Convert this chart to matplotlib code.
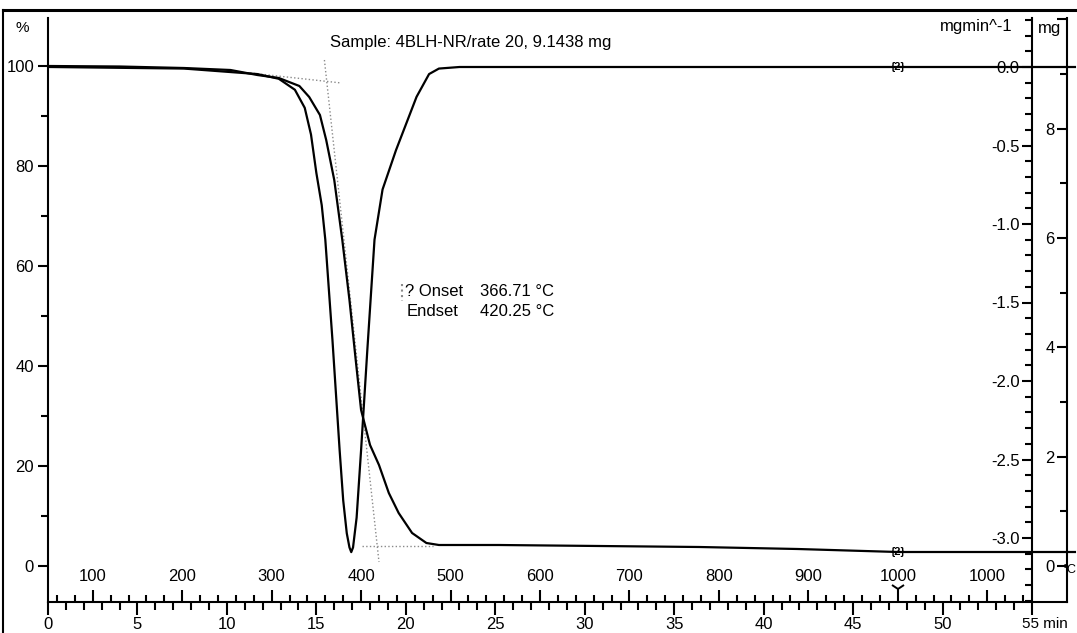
import matplotlib
matplotlib.use("Agg")
import matplotlib.pyplot as plt
from matplotlib.lines import Line2D
from matplotlib.transforms import ScaledTranslation
from matplotlib.ticker import MultipleLocator, FixedLocator, FormatStrFormatter

plt.rcParams['font.family'] = ['Liberation Sans', 'DejaVu Sans']
plt.rcParams['axes.unicode_minus'] = False

# sample info
sample_mass = 9.1438  # mg, 100 %
onset_T = 366.71
endset_T = 420.25

# TGA curve: time (min) vs residual mass (%)
tga_time = [0.1, 4.0, 7.6, 10.2, 11.7, 12.9, 14.05, 14.6, 15.2, 15.55, 16.0, 16.45,
            16.85, 17.2, 17.5, 18.0, 18.5, 19.05, 19.6, 20.35, 21.15, 21.85, 25.2,
            30.8, 36.4, 41.9, 47.5, 53.1, 57.4]
tga_pct = [100.0, 99.9, 99.6, 99.2, 98.2, 97.6, 96.0, 93.8, 90.2, 85.2, 77.2, 65.2,
           53.2, 41.2, 31.2, 24.2, 20.2, 14.6, 10.6, 6.6, 4.6, 4.2, 4.2,
           4.0, 3.8, 3.4, 2.8, 2.8, 2.8]

# DTG curve: time (min) vs mass loss rate (mg/min)
dtg_time = [0.1, 7.6, 11.7, 12.9, 13.8, 14.35, 14.7, 15.0, 15.3, 15.5, 15.9, 16.3,
            16.5, 16.7, 16.85, 16.95, 17.05, 17.25, 17.5, 17.85, 18.25, 18.7, 19.45,
            20.6, 21.3, 21.85, 23.0, 30.0, 40.0, 50.0, 57.4]
dtg_val = [0.0, -0.01, -0.045, -0.075, -0.145, -0.26, -0.43, -0.675, -0.88, -1.10, -1.74, -2.44,
           -2.76, -2.97, -3.06, -3.09, -3.06, -2.87, -2.44, -1.80, -1.10, -0.78, -0.53,
           -0.19, -0.045, -0.01, 0.0, 0.0, 0.0, 0.0, 0.0]

# onset / endset construction lines (time, %)
base_start_t = [11.3, 16.4]
base_start_pct = [98.6, 96.6]
tangent_t = [15.45, 18.5]
tangent_pct = [101.2, 0.8]
base_end_t = [17.55, 21.5]
base_end_pct = [4.0, 4.0]

# axis ticks
time_ticks = [0, 5, 10, 15, 20, 25, 30, 35, 40, 45, 50, 55]
time_labels = ['0', '5', '10', '15', '20', '25', '30', '35', '40', '45', '50', '55 min']
temp_labels = [100, 200, 300, 400, 500, 600, 700, 800, 900, 1000, 1000]
temp_label_time = [2.5, 7.5, 12.5, 17.5, 22.5, 27.5, 32.5, 37.5, 42.5, 47.5, 52.5]
pct_ticks = [0, 20, 40, 60, 80, 100]
mg_ticks = [0, 2, 4, 6, 8, 10]
mg_labels = ['0', '2', '4', '6', '8', '']

W, H = 1077, 633
fig = plt.figure(figsize=(W / 100, H / 100), dpi=100)


def fx(px):
    return px / W


def fy(py):
    return 1 - py / H


x0, x1, x2, ytop, ybot = 48, 1032, 1067, 18, 602
bottom = fy(ybot)
height = fy(ytop) - fy(ybot)
FS = 12
LW = 1.5

# main axes: % vs time
ax = fig.add_axes([fx(x0), bottom, fx(x1) - fx(x0), height])
ax.set_xlim(0, 55)
ax.set_ylim(-7.2, 109.6)
for s in ['top', 'right']:
    ax.spines[s].set_visible(False)
for s in ['left', 'bottom']:
    ax.spines[s].set_linewidth(LW)
ax.yaxis.set_major_locator(FixedLocator(pct_ticks))
ax.yaxis.set_minor_locator(MultipleLocator(10))
ax.xaxis.set_major_locator(FixedLocator(time_ticks))
ax.set_xticklabels(time_labels)
ax.xaxis.set_minor_locator(MultipleLocator(1))
ax.tick_params(axis='y', which='major', length=7, width=LW, labelsize=FS, pad=3)
ax.tick_params(axis='y', which='minor', length=5, width=LW)
ax.tick_params(axis='x', which='major', length=9, width=LW, labelsize=FS, pad=2)
ax.tick_params(axis='x', which='minor', length=6, width=LW)

ax.plot(tga_time, tga_pct, color='k', lw=1.6, clip_on=False, zorder=3)
ax.plot(base_start_t, base_start_pct, color='#8a8a8a', lw=1.0, ls=':')
ax.plot(tangent_t, tangent_pct, color='#8a8a8a', lw=1.0, ls=':')
ax.plot(base_end_t, base_end_pct, color='#8a8a8a', lw=1.0, ls=':')

# temperature scale on the same line, ticks pointing up
t_end = (1000 - 50) / 20
ax_T = ax.twiny()
ax_T.set_xlim(0, 55)
for s in ax_T.spines.values():
    s.set_visible(False)
ax_T.xaxis.set_ticks_position('bottom')
ax_T.xaxis.set_major_locator(FixedLocator(temp_label_time))
ax_T.set_xticklabels([str(t) for t in temp_labels])
ax_T.xaxis.set_minor_locator(FixedLocator([i + 0.5 for i in range(55)]))
ax_T.tick_params(axis='x', which='major', direction='in', length=9, width=LW,
                 labelsize=FS, pad=-24)
ax_T.tick_params(axis='x', which='minor', direction='in', length=5, width=LW)
ax_T.plot([t_end], [-4.5], marker='1', color='k', ms=11, mew=1.4, clip_on=False)

# DTG (mg/min) drawn on a twin scale
dtg_lim = ((67 - ybot) / 157, (67 - ytop) / 157)
ax_d = ax.twinx()
ax_d.set_ylim(dtg_lim)
ax_d.axis('off')
ax_d.plot(dtg_time, dtg_val, color='k', lw=1.6, clip_on=False, zorder=3)

# markers on the curves at end of heating
ax.text(t_end, tga_pct[-3], '{2}', fontsize=8, fontweight='bold', ha='center', va='center')
ax_d.text(t_end, 0.0, '{2}', fontsize=8, fontweight='bold', ha='center', va='center')

# DTG axis scale
ax_ds = fig.add_axes([fx(x1), bottom, fx(x2) - fx(x1), height])
ax_ds.set_ylim(dtg_lim)
ax_ds.patch.set_visible(False)
ax_ds.set_xticks([])
for s in ['top', 'right']:
    ax_ds.spines[s].set_visible(False)
for s in ['left', 'bottom']:
    ax_ds.spines[s].set_linewidth(LW)
ax_ds.yaxis.set_major_locator(MultipleLocator(0.5))
ax_ds.yaxis.set_major_formatter(FormatStrFormatter('%.1f'))
ax_ds.yaxis.set_minor_locator(MultipleLocator(0.1))
ax_ds.tick_params(axis='y', which='major', length=7, width=LW, labelsize=FS, pad=2)
ax_ds.tick_params(axis='y', which='minor', length=5, width=LW)

# mg axis scale
pct_lim = ax.get_ylim()
ax_mg = fig.add_axes([fx(x2), bottom, 0.05, height])
ax_mg.set_ylim(pct_lim[0] * sample_mass / 100, pct_lim[1] * sample_mass / 100)
ax_mg.patch.set_visible(False)
ax_mg.set_xticks([])
for s in ['top', 'right', 'bottom']:
    ax_mg.spines[s].set_visible(False)
ax_mg.spines['left'].set_linewidth(LW)
ax_mg.yaxis.set_major_locator(FixedLocator(mg_ticks))
ax_mg.set_yticklabels(mg_labels)
ax_mg.yaxis.set_minor_locator(MultipleLocator(1))
ax_mg.tick_params(axis='y', which='major', length=7, width=LW, labelsize=FS, pad=2)
ax_mg.tick_params(axis='y', which='minor', length=5, width=LW)

# shift the "55 min" label right so it sits like the printout, but inside the page
fig.canvas.draw()
last = ax.get_xticklabels()[-1]
last.set_fontsize(FS - 1)
last.set_transform(last.get_transform() + ScaledTranslation(13 / 100, 0, fig.dpi_scale_trans))

# texts
fig.text(fx(330), fy(42), 'Sample: 4BLH-NR/rate 20, %.4f mg' % sample_mass,
         fontsize=FS, va='center', ha='left')
fig.text(fx(22), fy(28), '%', fontsize=FS - 1, va='center', ha='center')
fig.text(fx(976), fy(27), 'mgmin^-1', fontsize=FS, va='center', ha='center')
fig.text(fx(1050), fy(28), 'mg', fontsize=FS, va='center', ha='center')
fig.text(fx(1076), fy(570), '°C', fontsize=FS - 3, va='center', ha='right')
fig.text(fx(405), fy(292), '? Onset', fontsize=FS, va='center', ha='left')
fig.text(fx(480), fy(292), '%.2f °C' % onset_T, fontsize=FS, va='center', ha='left')
fig.text(fx(407), fy(312), 'Endset', fontsize=FS, va='center', ha='left')
fig.text(fx(480), fy(312), '%.2f °C' % endset_T, fontsize=FS, va='center', ha='left')
fig.add_artist(Line2D([fx(402), fx(402)], [fy(284), fy(301)], color='#8a8a8a', lw=1.5, ls=':'))

# outer frame of the printout
fig.add_artist(Line2D([fx(3), 1], [fy(10), fy(10)], color='k', lw=2.2))
fig.add_artist(Line2D([fx(3), fx(3)], [0, fy(10)], color='k', lw=1.5))

fig.savefig('out.png', dpi=100)
